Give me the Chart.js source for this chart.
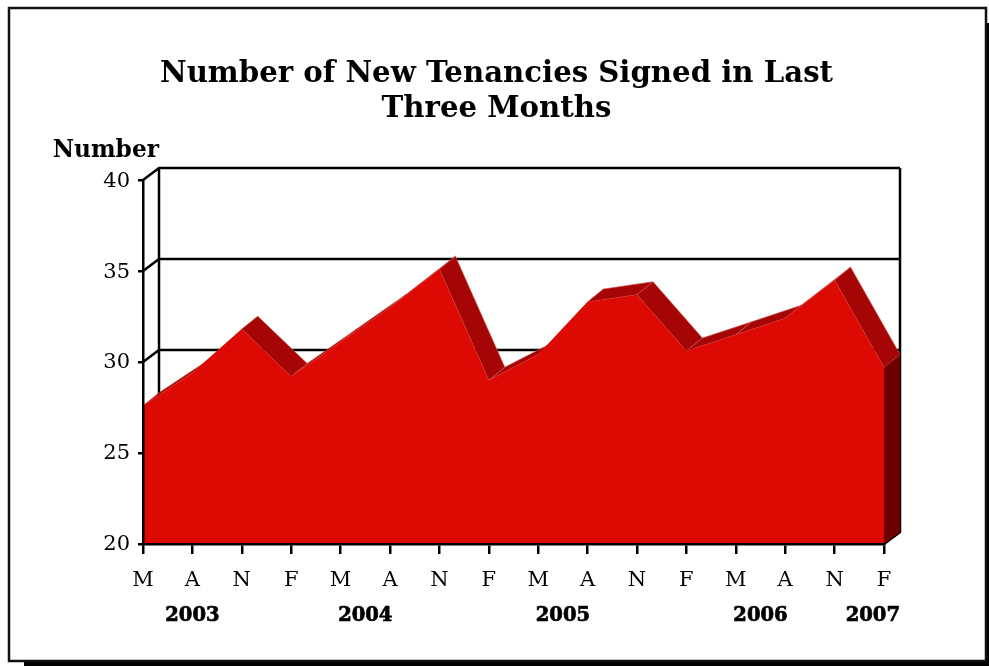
<!DOCTYPE html>
<html>
<head>
<meta charset="utf-8">
<title>New Tenancies</title>
<script src="https://cdn.jsdelivr.net/npm/chart.js@4/dist/chart.umd.min.js"></script>
<style>
  html, body { margin: 0; padding: 0; background: #fff; }
  canvas { display: block; }
</style>
</head>
<body>
<canvas id="tenancyChart" width="989" height="666"></canvas>
<script>
const quarterLabels = ['M', 'A', 'N', 'F', 'M', 'A', 'N', 'F', 'M', 'A', 'N', 'F', 'M', 'A', 'N', 'F'];
const newTenancies = [27.6, 29.4, 31.8, 29.2, 31.1, 33.0, 35.1, 29.0, 30.4, 33.3, 33.7, 30.6, 31.5, 32.4, 34.5, 29.7];
const yearLabels = ['2003', '2004', '2005', '2006', '2007'];
const yearFirstIndex = [0, 3, 7, 11, 15];
const yearLastIndex = [2, 6, 10, 14, 15];
const titleLines = ['Number of New Tenancies Signed in Last', 'Three Months'];
const yAxisCaption = 'Number';

const DEPTH_X = 16;
const DEPTH_Y = -12;
const AREA_DEPTH_Y = -13;
const SERIF = "'DejaVu Serif', serif";

// frame with drop shadow behind everything
const framePlugin = {
    id: 'frame',
    beforeDraw(chart) {
        const ctx = chart.ctx;
        ctx.save();
        ctx.fillStyle = '#000';
        ctx.fillRect(24, 23, 965, 643);
        ctx.fillStyle = '#fff';
        ctx.fillRect(9, 8, 977, 653);
        ctx.strokeStyle = '#111';
        ctx.lineWidth = 2.5;
        ctx.strokeRect(9, 8, 977, 653);
        ctx.restore();
    }
};

// back walls and the extruded top of the area
const depthPlugin = {
    id: 'depth',
    beforeDatasetsDraw(chart) {
        const ctx = chart.ctx;
        const x = chart.scales.x;
        const y = chart.scales.y;
        const left = x.left, right = x.right, bottom = y.bottom;

        ctx.save();
        ctx.strokeStyle = '#000';
        ctx.lineWidth = 2.5;
        ctx.beginPath();
        y.ticks.forEach(t => {
            const py = y.getPixelForValue(t.value);
            ctx.moveTo(left, py);
            ctx.lineTo(left + DEPTH_X, py + DEPTH_Y);
            if (t.value > y.min) {
                ctx.lineTo(right + DEPTH_X, py + DEPTH_Y);
            }
        });
        ctx.moveTo(left + DEPTH_X, y.top + DEPTH_Y);
        ctx.lineTo(left + DEPTH_X, bottom + DEPTH_Y);
        ctx.moveTo(right + DEPTH_X, y.top + DEPTH_Y);
        ctx.lineTo(right + DEPTH_X, bottom + DEPTH_Y);
        ctx.lineTo(right, bottom);
        ctx.stroke();

        ctx.lineWidth = 0.6;
        ctx.strokeStyle = '#d2524a';
        ctx.fillStyle = '#a50505';
        for (let i = 0; i < newTenancies.length - 1; i++) {
            const x0 = x.getPixelForValue(i), y0 = y.getPixelForValue(newTenancies[i]);
            const x1 = x.getPixelForValue(i + 1), y1 = y.getPixelForValue(newTenancies[i + 1]);
            ctx.beginPath();
            ctx.moveTo(x0, y0);
            ctx.lineTo(x1, y1);
            ctx.lineTo(x1 + DEPTH_X, y1 + AREA_DEPTH_Y);
            ctx.lineTo(x0 + DEPTH_X, y0 + AREA_DEPTH_Y);
            ctx.closePath();
            ctx.fill();
            ctx.stroke();
        }

        // right end of the area
        const lastY = y.getPixelForValue(newTenancies[newTenancies.length - 1]);
        ctx.fillStyle = '#6e0000';
        ctx.beginPath();
        ctx.moveTo(right, lastY);
        ctx.lineTo(right + DEPTH_X, lastY + AREA_DEPTH_Y);
        ctx.lineTo(right + DEPTH_X, bottom + DEPTH_Y);
        ctx.lineTo(right, bottom);
        ctx.closePath();
        ctx.fill();
        ctx.restore();
    }
};

// axis caption and the year row under the month letters
const captionPlugin = {
    id: 'captions',
    afterDraw(chart) {
        const ctx = chart.ctx;
        const x = chart.scales.x;
        ctx.save();
        ctx.fillStyle = '#000';
        ctx.strokeStyle = '#000';
        ctx.textBaseline = 'middle';
        ctx.font = 'bold 23.3px ' + SERIF;
        ctx.textAlign = 'right';
        ctx.fillText(yAxisCaption, x.left + DEPTH_X, 151);
        ctx.font = 'bold 19.5px ' + SERIF;
        ctx.lineWidth = 0.7;
        ctx.textAlign = 'center';
        yearLabels.forEach((label, i) => {
            const w = ctx.measureText(label).width;
            const mid = (yearFirstIndex[i] + yearLastIndex[i]) / 2;
            const px = Math.min(x.getPixelForValue(mid), x.right + DEPTH_X - w / 2);
            ctx.fillText(label, px, 616);
            ctx.strokeText(label, px, 616);
        });
        ctx.restore();
    }
};

new Chart(document.getElementById('tenancyChart').getContext('2d'), {
    type: 'line',
    data: {
        labels: quarterLabels,
        datasets: [{
            label: 'New tenancies',
            data: newTenancies,
            fill: 'start',
            backgroundColor: '#dc0a03',
            borderWidth: 0,
            pointRadius: 0,
            tension: 0,
            clip: false
        }]
    },
    options: {
        responsive: false,
        animation: false,
        layout: { padding: { left: 4, right: 0, top: 0, bottom: 0 } },
        plugins: {
            legend: { display: false },
            tooltip: { enabled: false },
            title: {
                display: true,
                text: titleLines,
                color: '#000',
                font: { family: SERIF, size: 29.2, weight: 'bold', lineHeight: 1.2 },
                padding: { top: 57, bottom: 53 }
            }
        },
        scales: {
            x: {
                offset: false,
                afterFit(scale) { scale.height = 122; },
                border: { display: true, color: '#000', width: 2.5, z: 1 },
                grid: { drawOnChartArea: false, drawTicks: true, tickLength: 10, color: '#000', lineWidth: 2.5, z: 1 },
                ticks: { color: '#000', font: { family: SERIF, size: 21 }, padding: 14, maxRotation: 0, autoSkip: false }
            },
            y: {
                min: 20,
                max: 40,
                afterFit(scale) { scale.width = 139; },
                border: { display: true, color: '#000', width: 2.5, z: 1 },
                grid: { drawOnChartArea: false, drawTicks: true, tickLength: 5, color: '#000', lineWidth: 2.5, z: 1 },
                ticks: { stepSize: 5, color: '#000', font: { family: SERIF, size: 21 }, padding: 8, labelOffset: 1 }
            },
            // empty axis that only reserves the margin right of the plot
            spacer: {
                position: 'right',
                afterFit(scale) { scale.width = 105; },
                border: { display: false },
                grid: { display: false },
                ticks: { display: false }
            }
        }
    },
    plugins: [framePlugin, depthPlugin, captionPlugin]
});
</script>
</body>
</html>
